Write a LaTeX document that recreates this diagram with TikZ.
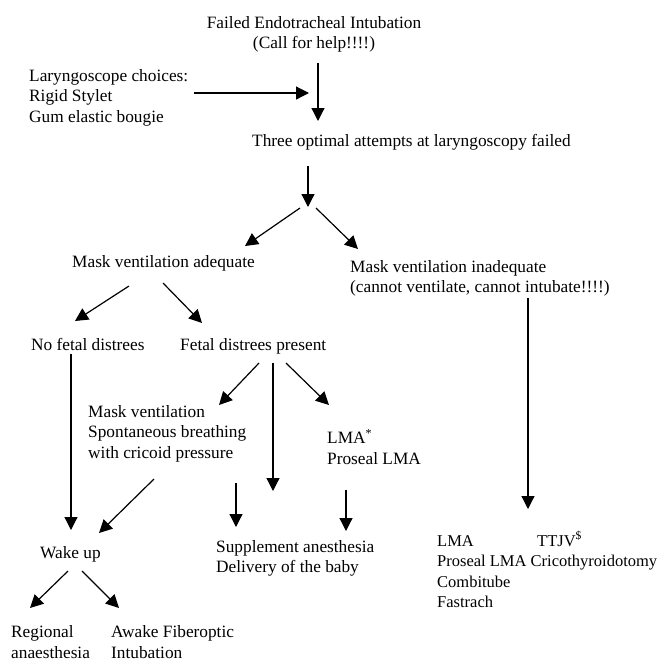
\documentclass[tikz,border=0pt]{standalone}
\usepackage{fontspec}
\setmainfont{Liberation Serif}
\usetikzlibrary{arrows.meta}
\begin{document}
\begin{tikzpicture}[x=1pt,y=-1pt,
  txt/.style={inner sep=0pt,font=\fontsize{17.3}{20.6}\selectfont,align=left,anchor=base west},
  ctxt/.style={txt,align=center,anchor=base},
  arr/.style={line width=1.2pt,-{Triangle[length=13pt,width=13pt]}}]
\useasboundingbox (0,0) rectangle (661,662);
% texts (anchor = baseline of the last line)
\node[ctxt] (top) at (314,48.6) {Failed Endotracheal Intubation\\(Call for help!!!!)};
\node[txt] (lary) at (29,122.2) {Laryngoscope choices:\\Rigid Stylet\\Gum elastic bougie};
\node[txt] (three) at (252,146) {Three optimal attempts at laryngoscopy failed};
\node[txt] (mva) at (72,267) {Mask ventilation adequate};
\node[txt] (mvi) at (350,292.6) {Mask ventilation inadequate\\(cannot ventilate, cannot intubate!!!!)};
\node[txt] (nfd) at (31,350) {No fetal distrees};
\node[txt] (fdp) at (180,350) {Fetal distrees present};
\node[txt] (mv) at (88,458.2) {Mask ventilation\\Spontaneous breathing\\with cricoid pressure};
\node[txt] (lma) at (327,464) {LMA\textsuperscript{*}\\Proseal LMA};
\node[txt] (wake) at (40,558) {Wake up};
\node[txt] (supp) at (216,572.6) {Supplement anesthesia\\Delivery of the baby};
\node[txt,font=\fontsize{16.5}{20.6}\selectfont] (resc) at (437,607.8) {\makebox[100pt][l]{LMA}TTJV\textsuperscript{\$}\\Proseal LMA Cricothyroidotomy\\Combitube\\Fastrach};
\node[txt] (reg) at (11,658.5) {Regional\\anaesthesia};
\node[txt] (awake) at (111,658.5) {Awake Fiberoptic\\Intubation};
% connector end points
\coordinate (a1s) at (318,63);  \coordinate (a1e) at (318,121);
\coordinate (a2s) at (194,93);  \coordinate (a2e) at (309,93);
\coordinate (a3s) at (308,166); \coordinate (a3e) at (308,207);
\coordinate (a4s) at (300,208); \coordinate (a4e) at (245,246);
\coordinate (a5s) at (316,208); \coordinate (a5e) at (358,249);
\coordinate (a6s) at (129,286); \coordinate (a6e) at (75,321);
\coordinate (a7s) at (163,283); \coordinate (a7e) at (202,323);
\coordinate (a8s) at (71,354);  \coordinate (a8e) at (71,530);
\coordinate (a9s) at (259,363); \coordinate (a9e) at (219,405);
\coordinate (a10s) at (273,363); \coordinate (a10e) at (273,491);
\coordinate (a11s) at (286,363); \coordinate (a11e) at (329,405);
\coordinate (a12s) at (154,479); \coordinate (a12e) at (99,533);
\coordinate (a13s) at (236,483); \coordinate (a13e) at (236,527);
\coordinate (a14s) at (346,490); \coordinate (a14e) at (346,531);
\coordinate (a15s) at (528,298); \coordinate (a15e) at (528,509);
\coordinate (a16s) at (68,571);  \coordinate (a16e) at (30,608);
\coordinate (a17s) at (82,571);  \coordinate (a17e) at (119,608);
\foreach \i in {1,...,17} {\draw[arr] (a\i s) -- (a\i e);}
\end{tikzpicture}
\end{document}
